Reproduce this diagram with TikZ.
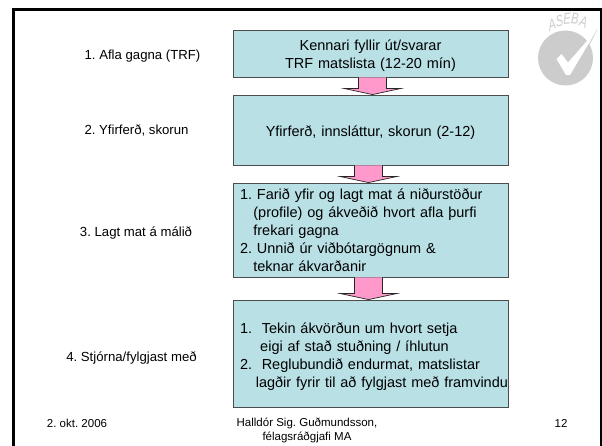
\documentclass[tikz,border=0pt]{standalone}
\usepackage{fontspec}
\setmainfont{Liberation Sans}
\usepackage{tikz}
\usetikzlibrary{positioning,calc}

\definecolor{boxfill}{RGB}{184,224,229}
\definecolor{arrowpink}{RGB}{255,153,204}
\definecolor{logogray}{RGB}{204,204,204}

\tikzset{
    stagebox/.style={draw=black!70,line width=0.5pt,fill=boxfill,minimum width=5.5cm,inner xsep=0.14cm,inner ysep=0pt,
        align=left,text width=5.22cm,font=\fontsize{8.25}{10.2}\selectfont},
    stagelabel/.style={font=\fontsize{7.5}{9}\selectfont},
    footlabel/.style={font=\fontsize{6.55}{8}\selectfont},
    pinkarrow/.style={draw=black!85,line width=0.4pt,fill=arrowpink,line join=miter},
}

\newcommand{\blockarrow}[3]{
    \draw[pinkarrow] ($(#1.south)+(#3-14,0)$) -- ($(#2.north)+(#3-14,-6)$) -- ($(#2.north)+(#3-28,-6)$)
        -- ($(#2.north)+(#3,0)$) -- ($(#2.north)+(#3+28,-6)$) -- ($(#2.north)+(#3+14,-6)$)
        -- ($(#1.south)+(#3+14,0)$);
}

\begin{document}
\frenchspacing
\begin{tikzpicture}[x=0.02cm,y=-0.02cm]
    \useasboundingbox (0,0) rectangle (602,446);

    % Slide frame
    \draw[line width=1.4pt] (13.7,446) -- (13.7,9.7) -- (601,9.7) -- (601,446);

    % Logo
    \fill[logogray] (565.5,58) circle (27.5);
    \draw[logogray,line width=0.4pt] (590,42) -- (597,29.5) -- (588,47);
    \fill[white] (556.5,59) -- (561.5,54) -- (568,62.5) -- (597,29.5) -- (570,75) -- (566,75) -- cycle;
    \foreach \ch/\x/\y/\r [count=\i] in {A/552/25/18,S/559.5/21/12,E/567/19/4,B/575/19/-6,A/583.5/22/-18} {
        \node[text=logogray,font=\fontsize{9}{10}\selectfont\itshape,inner sep=0pt,xscale=0.7,rotate=\r] (logo\i) at (\x,\y) {\ch};
    }

    % Stage boxes
    \node[stagebox,minimum height=0.94cm,align=center] (box1) at (370.5,53.5) {\rule{0pt}{8.5pt}Kennari fyllir út/svarar\\TRF matslista (12-20 mín)};
    \node[stagebox,minimum height=1.4cm,align=center] (box2) at (370.5,130) {\rule{0pt}{9pt}Yfirferð, innsláttur, skorun (2-12)};
    \node[stagebox,minimum height=1.88cm] (box3) at (370.5,230) {1. Farið yfir og lagt mat á niðurstöður\\
        \hspace*{7.6pt}(profile) og ákveðið hvort afla þurfi\\
        \hspace*{7.6pt}frekari gagna\\
        2. Unnið úr viðbótargögnum \&\\
        \hspace*{7.6pt}teknar ákvarðanir};
    \node[stagebox,minimum height=2.14cm] (box4) at (370.5,353.5) {\rule{0pt}{10pt}1.\hspace{5.5pt}Tekin ákvörðun um hvort setja\\
        \hspace*{11.5pt}eigi af stað stuðning / íhlutun\\
        2.\hspace{5.5pt}Reglubundið endurmat, matslistar\\
        \hspace*{9pt}\makebox[0pt][l]{lagðir fyrir til að fylgjast með framvindu}};

    % Arrows between boxes
    \blockarrow{box1}{box2}{2}
    \blockarrow{box2}{box3}{-2}
    \blockarrow{box3}{box4}{-2}

    % Stage names
    \node[stagelabel] (stage1) at (142.5,56) {1. Afla gagna (TRF)};
    \node[stagelabel] (stage2) at (136.5,130) {2. Yfirferð, skorun};
    \node[stagelabel] (stage3) at (136,233) {3. Lagt mat á málið};
    \node[stagelabel] (stage4) at (131.5,358) {4. Stjórna/fylgjast með};

    % Footer
    \node[footlabel] (date) at (77,423) {2. okt. 2006};
    \node[footlabel,align=center] (author) at (307,430) {Halldór Sig. Guðmundsson,\\félagsráðgjafi MA};
    \node[footlabel] (page) at (561,423) {12};
\end{tikzpicture}
\end{document}
